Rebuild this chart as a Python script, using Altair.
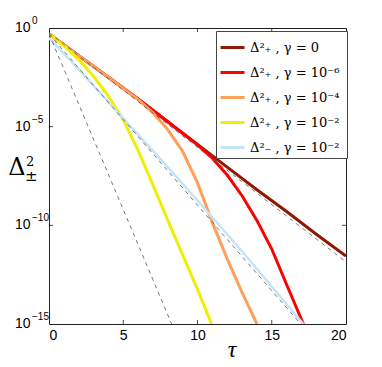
import altair as alt
import pandas as pd

# ---- data (log10 values) ----
labels = ["Δ²₊ ,  γ = 0", "Δ²₊ ,  γ = 10⁻⁶", "Δ²₊ ,  γ = 10⁻⁴", "Δ²₊ ,  γ = 10⁻²", "Δ²₋ ,  γ = 10⁻²"]
colors = ["#8c1a04", "#ff0000", "#ffa05a", "#eef000", "#c4e4fa"]

tau_g0 = [0, 2, 4, 6, 8, 10, 12, 14, 16, 18, 20]
log_g0 = [-0.3, -1.4, -2.5, -3.6, -4.75, -5.9, -7.05, -8.2, -9.3, -10.45, -11.56]

tau_g6 = [0, 2, 4, 6, 8, 10, 11, 12, 13, 14, 15, 16, 17.13]
log_g6 = [-0.3, -1.4, -2.5, -3.6, -4.75, -5.92, -6.6, -7.45, -8.5, -9.75, -11.2, -13.0, -15.0]

tau_g4 = [0, 2, 4, 5, 6, 7, 8, 9, 10, 11, 12, 13, 14]
log_g4 = [-0.3, -1.4, -2.5, -3.05, -3.62, -4.3, -5.15, -6.25, -7.85, -9.85, -11.7, -13.4, -15.0]

tau_g2 = [0, 1, 2, 3, 4, 5, 6, 7, 8, 9, 10, 10.95]
log_g2 = [-0.3, -0.9, -1.6, -2.45, -3.45, -4.65, -6.2, -7.95, -9.75, -11.5, -13.25, -15.0]

tau_m2 = [0, 2, 4, 6, 8, 10, 12, 14, 16, 17.13]
log_m2 = [-0.5, -2.1, -3.75, -5.4, -7.05, -8.75, -10.45, -12.2, -14.0, -15.0]

# dashed reference lines (start / end points)
dash_names = ["a", "b", "c"]
dash_tau = [[0, 20], [0, 16.95], [0, 8.26]]
dash_log = [[-0.25, -11.85], [-0.3, -15.0], [-0.3, -15.0]]

x_ticks = [0, 5, 10, 15, 20]
y_ticks = [1, 1e-5, 1e-10, 1e-15]
y_base = ["10", "10", "10", "10"]
y_exp = ["0", "−5", "−10", "−15"]

# ---- tables ----
rows = []
for lab, ts, ls in zip(labels, [tau_g0, tau_g6, tau_g4, tau_g2, tau_m2],
                       [log_g0, log_g6, log_g4, log_g2, log_m2]):
    for t, l in zip(ts, ls):
        rows.append({"series": lab, "tau": t, "D": 10 ** l})
df = pd.DataFrame(rows)
df_plus = df[df.series != labels[4]]
df_minus = df[df.series == labels[4]]

drows = []
for n, ts, ls in zip(dash_names, dash_tau, dash_log):
    for t, l in zip(ts, ls):
        drows.append({"dl": n, "tau": t, "D": 10 ** l})
ddf = pd.DataFrame(drows)

ylab = pd.DataFrame({"D": y_ticks, "b": y_base, "e": y_exp})

W, H = 297, 296
xs = alt.Scale(domain=[0, 20], nice=False, zero=False)
ys = alt.Scale(type="log", domain=[1e-15, 1], nice=False)

X = alt.X("tau:Q", scale=xs, axis=alt.Axis(values=x_ticks, title=None, labelPadding=4,
                                           labelFont="Liberation Sans", labelFontSize=14))
Y = alt.Y("D:Q", scale=ys, axis=None)

color = alt.Color("series:N", sort=labels,
                  scale=alt.Scale(domain=labels, range=colors),
                  legend=alt.Legend(title=None, orient="none", legendX=167, legendY=3,
                                    symbolType="stroke", symbolStrokeWidth=3, symbolSize=576,
                                    labelFont="DejaVu Serif", labelFontSize=13, labelLimit=300,
                                    strokeColor="#444", fillColor="white", padding=3,
                                    rowPadding=4, labelOffset=4))

lines_p = alt.Chart(df_plus).mark_line(strokeWidth=3, clip=True).encode(
    x=X, y=Y, color=color, order="tau:Q")
lines_m = alt.Chart(df_minus).mark_line(strokeWidth=2.5, clip=True).encode(
    x=X, y=Y, color=color, order="tau:Q")
dashed = alt.Chart(ddf).mark_line(strokeDash=[4, 4], color="#555", strokeWidth=0.8, clip=True).encode(
    x=alt.X("tau:Q", scale=xs), y=alt.Y("D:Q", scale=ys), detail="dl:N")

# inward tick marks
xt = pd.DataFrame({"tau": x_ticks[1:-1]})
yt = pd.DataFrame({"D": y_ticks[1:-1]})
tk = dict(size=64, filled=False, stroke="black", strokeWidth=1)
t_bot = alt.Chart(xt).mark_point(shape="M0,0L0,-1", **tk).encode(x=alt.X("tau:Q", scale=xs), y=alt.value(H))
t_top = alt.Chart(xt).mark_point(shape="M0,0L0,1", **tk).encode(x=alt.X("tau:Q", scale=xs), y=alt.value(0))
t_left = alt.Chart(yt).mark_point(shape="M0,0L1,0", **tk).encode(y=alt.Y("D:Q", scale=ys), x=alt.value(0))
t_right = alt.Chart(yt).mark_point(shape="M0,0L-1,0", **tk).encode(y=alt.Y("D:Q", scale=ys), x=alt.value(W))

# y tick labels 10^n
ybase = alt.Chart(ylab).mark_text(font="Liberation Sans", fontSize=14, align="left",
                                  baseline="middle", color="black").encode(
    y=alt.Y("D:Q", scale=ys), x=alt.value(-34), text="b:N")
yexp = alt.Chart(ylab).mark_text(font="Liberation Sans", fontSize=10, align="left",
                                 baseline="middle", color="black", dy=-7).encode(
    y=alt.Y("D:Q", scale=ys), x=alt.value(-17), text="e:N")

# y-axis title Δ²±
delta = alt.Chart(pd.DataFrame({"s": ["Δ"]})).mark_text(
    font="DejaVu Serif", fontSize=24, align="center", baseline="alphabetic", color="black"
).encode(text="s:N", x=alt.value(-32), y=alt.value(147))
sup = alt.Chart(pd.DataFrame({"s": ["2"]})).mark_text(
    font="DejaVu Serif", fontSize=13, align="left", baseline="alphabetic", color="black"
).encode(text="s:N", x=alt.value(-23), y=alt.value(138))
sub = alt.Chart(pd.DataFrame({"s": ["±"]})).mark_text(
    font="DejaVu Serif", fontSize=15, align="left", baseline="alphabetic", color="black"
).encode(text="s:N", x=alt.value(-24), y=alt.value(153))

# x-axis title τ
taut = alt.Chart(pd.DataFrame({"s": ["τ"]})).mark_text(
    font="Liberation Serif", fontStyle="italic", fontSize=24, align="center",
    baseline="alphabetic", color="black"
).encode(text="s:N", x=alt.value(183), y=alt.value(329))

chart = alt.layer(lines_p, lines_m, dashed, t_bot, t_top, t_left, t_right,
                  ybase, yexp, delta, sup, sub, taut).properties(
    width=W, height=H,
    autosize=alt.AutoSizeParams(type="none"),
    padding={"left": 41, "top": 20, "right": 28, "bottom": 43},
).configure_view(stroke="#222", strokeWidth=1).configure_axis(
    domain=False, ticks=False, grid=False, labelColor="black", titleColor="black"
)

chart.save("out.html", embed_options={"renderer": "svg", "actions": False})
